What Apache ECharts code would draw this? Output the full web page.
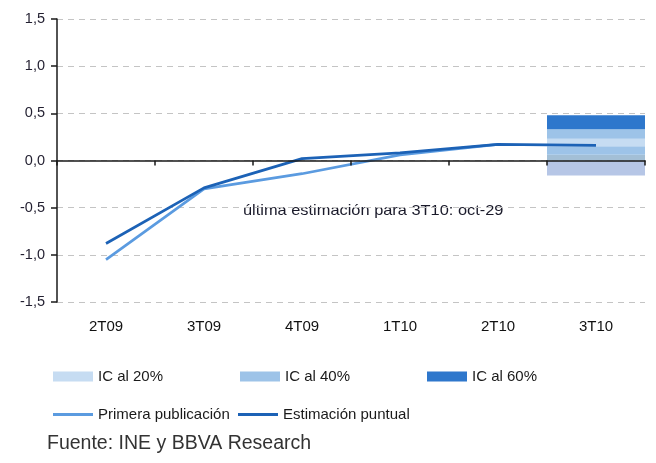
<!DOCTYPE html>
<html><head><meta charset="utf-8">
<script src="https://cdn.jsdelivr.net/npm/echarts@6/dist/echarts.min.js"></script>
<style>html,body{margin:0;padding:0;background:#fff}#c{width:656px;height:463px}</style>
</head><body><div id="c"></div>
<script>
const categories = ['2T09', '3T09', '4T09', '1T10', '2T10', '3T10'];
const primeraPublicacion = [-1.05, -0.30, -0.14, 0.06, 0.17, null];
const estimacionPuntual = [-0.88, -0.29, 0.02, 0.08, 0.17, 0.16];
// confidence-interval band for 3T10, stacked segment thicknesses
const bandBelowZero = [null, null, null, null, null, -0.16];
const bandLow60 = [null, null, null, null, null, 0.06];
const bandLow40 = [null, null, null, null, null, 0.09];
const band20 = [null, null, null, null, null, 0.08];
const bandHigh40 = [null, null, null, null, null, 0.10];
const bandHigh60 = [null, null, null, null, null, 0.15];
const yMin = -1.5, yMax = 1.5, yStep = 0.5;
const annotation = 'última estimación para 3T10: oct-29';
const source = 'Fuente: INE y BBVA Research';

const C20 = '#c6dcf2', C40 = '#9dc3e8', C60 = '#2e77cc';
const LIGHT = '#5b9be0', DARK = '#1c62b6';
const FONT = 'Liberation Sans, Arial, sans-serif';

const chart = echarts.init(document.getElementById('c'), null, {renderer: 'canvas'});
function bar(name, data, color) {
  return {type: 'bar', name, data, stack: 'band', xAxisIndex: 0, barWidth: '100%',
    itemStyle: {color}, z: 1, silent: true};
}
function leg(name, left, top, color, isLine) {
  return {data: [{name, icon: 'rect', itemStyle: {color}}], left, top, padding: 0,
    itemWidth: 40, itemHeight: isLine ? 3 : 10, itemGap: 0, selectedMode: false,
    textStyle: {fontFamily: FONT, fontSize: 15, color: '#1a1a1a', padding: [0, 0, 0, 0]}};
}
chart.setOption({
  animation: false,
  grid: {left: 57, right: 11, top: 19, bottom: 161},
  xAxis: [
    {type: 'category', data: categories, position: 'bottom',
      axisLine: {show: false, onZero: false}, axisTick: {show: false},
      axisLabel: {fontFamily: FONT, fontSize: 15, color: '#111', margin: 17}},
    {type: 'category', data: categories, position: 'bottom', z: 5,
      axisLine: {show: true, onZero: true, lineStyle: {color: '#1a1a1a', width: 1.5}},
      axisTick: {show: true, length: 5, lineStyle: {color: '#1a1a1a', width: 1.5}},
      axisLabel: {show: false}}
  ],
  yAxis: {type: 'value', min: yMin, max: yMax, interval: yStep,
    axisLine: {show: true, onZero: false, lineStyle: {color: '#1a1a1a', width: 1.5}},
    axisTick: {show: true, length: 6, lineStyle: {color: '#1a1a1a', width: 1.5}},
    splitLine: {show: true, lineStyle: {color: '#c4c4c4', type: [6, 5], width: 1}},
    axisLabel: {fontFamily: FONT, fontSize: 14.5, color: '#221f30', margin: 12,
      formatter: v => v.toFixed(1).replace('.', ',')}},
  legend: [
    leg('IC al 20%', 53, 369, C20, false),
    leg('IC al 40%', 240, 369, C40, false),
    leg('IC al 60%', 427, 369, C60, false),
    leg('Primera publicación', 53, 407, LIGHT, true),
    leg('Estimación puntual', 238, 407, DARK, true)
  ],
  series: [
    bar('IC al 60%', bandBelowZero, '#b6c6e6'),
    bar('IC al 60%', bandLow60, '#a3bfd6'),
    bar('IC al 40%', bandLow40, C40),
    bar('IC al 20%', band20, C20),
    bar('IC al 40%', bandHigh40, C40),
    bar('IC al 60%', bandHigh60, C60),
    {type: 'line', name: 'Primera publicación', data: primeraPublicacion, symbol: 'none',
      lineStyle: {color: LIGHT, width: 2.7}, itemStyle: {color: LIGHT}, z: 3},
    {type: 'line', name: 'Estimación puntual', data: estimacionPuntual, symbol: 'none',
      lineStyle: {color: DARK, width: 2.7}, itemStyle: {color: DARK}, z: 4}
  ],
  graphic: [
    {type: 'text', x: 243, y: 203, scaleX: 1.13, style: {text: annotation, fontFamily: FONT,
      fontSize: 14.5, fill: '#1a1a2a'}},
    {type: 'text', left: 47, top: 434, style: {text: source, fontFamily: FONT,
      fontSize: 19.5, fill: '#333'}}
  ]
});
</script></body></html>
